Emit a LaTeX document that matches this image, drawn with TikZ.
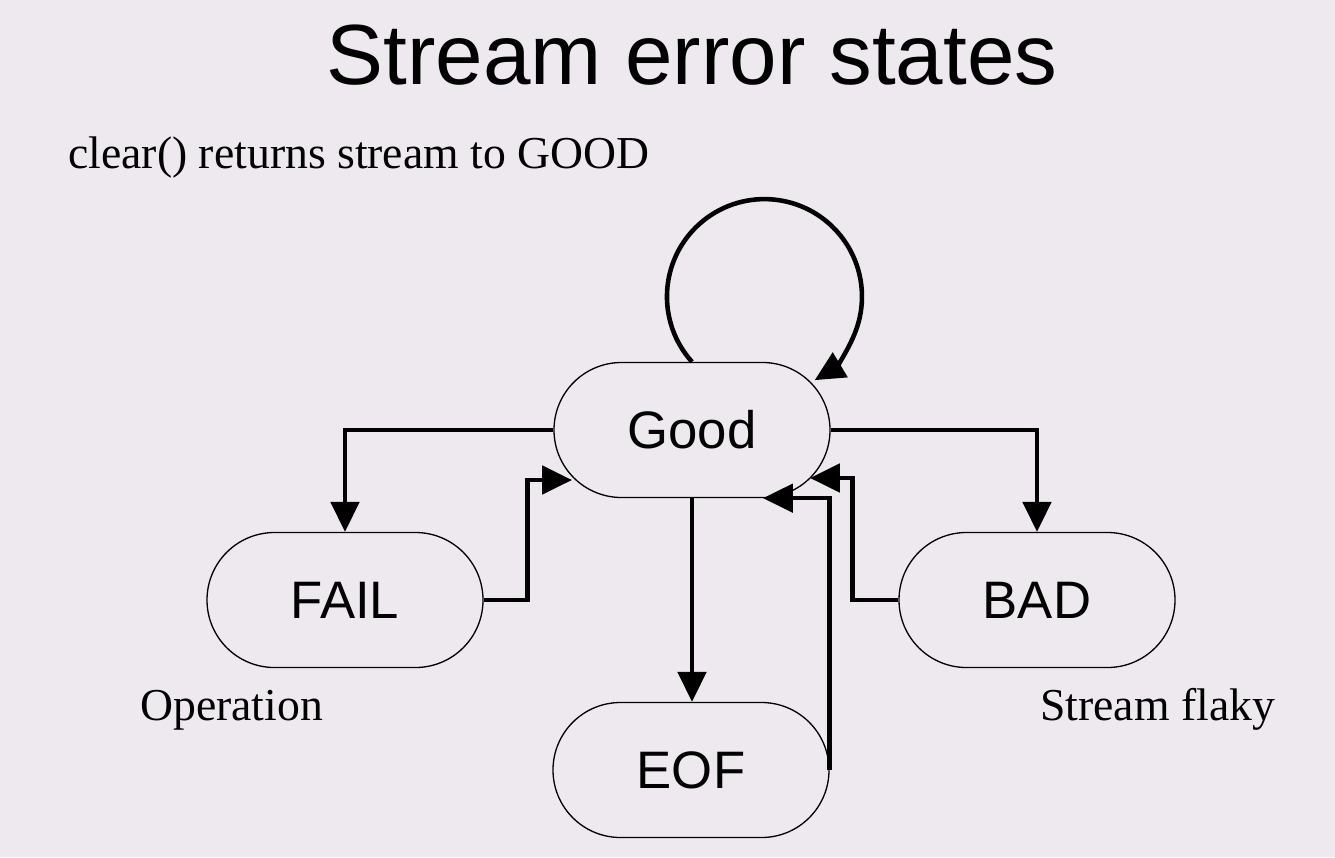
\documentclass[tikz,border=0pt]{standalone}
\usepackage{fontspec}
\setmainfont{Liberation Serif}
\newfontfamily\arialfont{Liberation Sans}
\usepackage{xcolor}
\usepackage{tikz}
\usetikzlibrary{positioning}
\usetikzlibrary{arrows.meta}
\usetikzlibrary{calc}

\definecolor{slidebg}{RGB}{237,233,239}

\tikzset{
	statebox/.style={draw, line width=0.75pt, rounded corners=1.35cm,
		minimum width=5.52cm, minimum height=2.7cm, inner sep=0pt,
		font=\arialfont\fontsize{30}{36}\selectfont},
	flow/.style={line width=2.6pt, -{Triangle[length=17pt,width=16pt]}},
	note/.style={anchor=base west, inner sep=0pt, font=\fontsize{26}{31}\selectfont}
}

\begin{document}
\begin{tikzpicture}[scale=1]

		% Background and frame
		\fill[slidebg] (0,0) rectangle (26.7,-17.14);
		\useasboundingbox (0,0) rectangle (26.7,-17.14);

		% Title and remark
		\node (title) at (13.84,-1.1) {\arialfont\fontsize{48.6}{58}\selectfont Stream error states};
		\node[note] (remark) at (1.36,-3.36) {clear() returns stream to GOOD};

		% States
		\node[statebox] (Good) at (13.84,-8.60) {Good};
		\node[statebox] (FAIL) at (6.90,-12.00) {FAIL};
		\node[statebox] (BAD)  at (20.74,-12.00) {BAD};
		\node[statebox] (EOF)  at (13.82,-15.40) {EOF};

		% Where the return arrows meet Good
		\coordinate (failin) at ($(Good.center)+(-2.40,-1.00)$);
		\coordinate (badin)  at ($(Good.center)+(2.36,-0.96)$);
		\coordinate (eofin)  at ($(Good.south)+(1.42,0)$);

		% Transitions out of Good
		\draw[flow] (Good.west) -| (FAIL.north);
		\draw[flow] (Good.east) -| (BAD.north);
		\draw[flow] (Good.south) -- (Good.south |- EOF.north);

		% Transitions back to Good
		\draw[flow] (FAIL.east) -- ++(0.88,0) |- (failin);
		\draw[flow] (BAD.west) -- ++(-0.92,0) |- (badin);
		\draw[flow] (EOF.east) |- (eofin);

		% Self loop
		\draw[flow] (Good.north) arc[start angle=222, end angle=-59, radius=1.95];

		% Manual labels
		\node[note] (oplabel) at (2.80,-14.40) {Operation};
		\node[note] (flakylabel) at (20.80,-14.40) {Stream flaky};

	\end{tikzpicture}
\end{document}
